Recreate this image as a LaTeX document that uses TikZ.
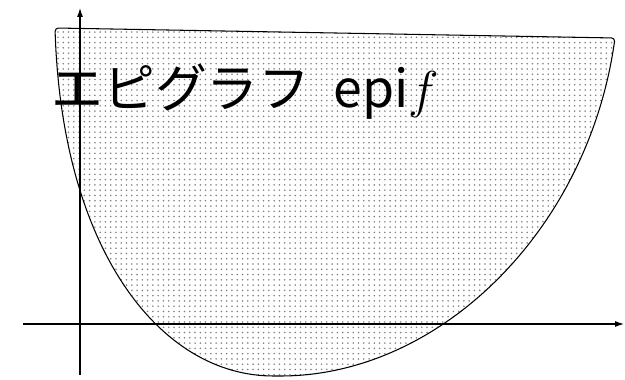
\documentclass[tikz,border=0pt]{standalone}
\usepackage{fix-cm}
\usepackage{amsmath}
\usepackage{fontspec}
\newfontfamily\jpfont{Noto Sans CJK JP}
\usepackage{tikz}
\usetikzlibrary{arrows.meta,patterns}

\begin{document}
\begin{tikzpicture}[axis/.style={line width=0.6pt, -{Latex[length=1.8mm,width=1.2mm]}}]
    \useasboundingbox (0,0) rectangle (12.5,7.6);
    % Epigraph region
    \draw[line width=0.6pt, pattern=dots, pattern color=black!50, rounded corners=2pt]
        (1.1,7.04) .. controls (1.24,2.6) and (3.2,0.08) .. (5.54,0.08)
        .. controls (8.8,0.08) and (11.76,3.0) .. (12.3,6.84) -- cycle;
    % Axes
    \coordinate (xl) at (0.46,1.12);
    \coordinate (xr) at (12.48,1.12);
    \coordinate (yb) at (1.6,0.1);
    \coordinate (yt) at (1.6,7.44);
    \draw[axis] (xl) -- (xr);
    \draw[axis] (yb) -- (yt);
    \node[anchor=base west, inner sep=0pt] (epi) at (1.02,5.44)
        {\fontsize{29.5}{34}\selectfont\jpfont エピグラフ\hspace{0.45em}epi$f$};
\end{tikzpicture}
\end{document}
